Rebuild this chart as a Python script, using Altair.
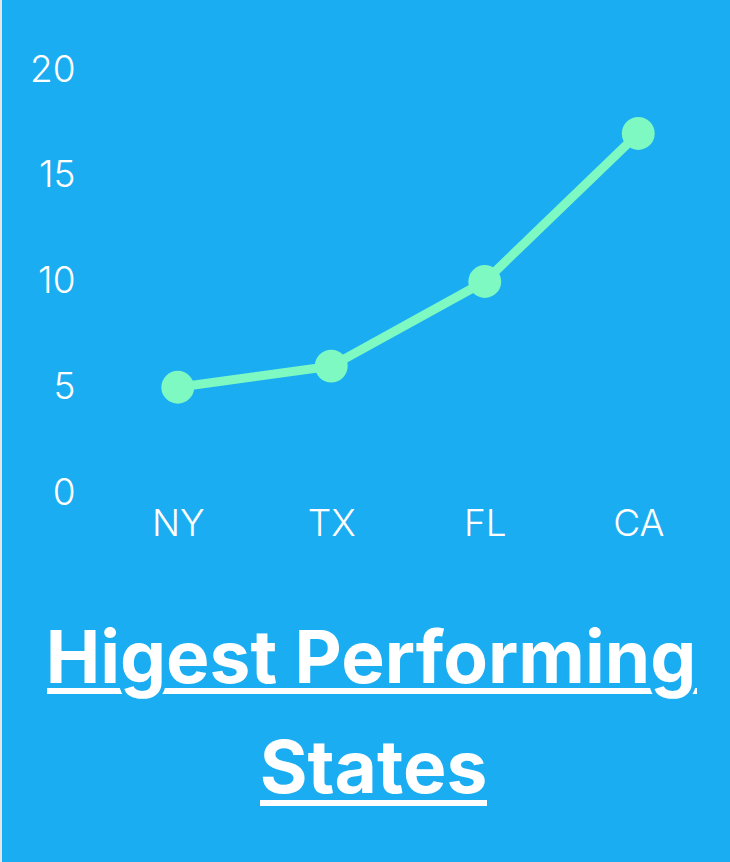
import altair as alt
import pandas as pd

states = ["NY", "TX", "FL", "CA"]
values = [5, 6, 10, 17]
y_ticks = [0, 5, 10, 15, 20]
title_lines = ["Higest Performing", "States"]

BG = "#1BADF2"
GREEN = "#7DF9C1"
W, H = 614, 423
PL, PT = 101, 70

df = pd.DataFrame({"state": states, "value": values})

x = alt.X("state:N", sort=states, title=None,
          scale=alt.Scale(type="point", padding=0.5),
          axis=alt.Axis(labelAngle=0, labelFontSize=37, labelColor="white",
                        labelFont="Inter", labelFontWeight=300,
                        labelPadding=13, ticks=False, domain=False, grid=False))
y = alt.Y("value:Q", title=None,
          scale=alt.Scale(domain=[0, 20], nice=False),
          axis=alt.Axis(values=y_ticks, labelFontSize=37, labelColor="white",
                        labelFont="Inter", labelFontWeight=300,
                        labelPadding=26, ticks=False, domain=False, grid=False))

base = alt.Chart(df)
line = base.mark_line(color=GREEN, strokeWidth=9).encode(x=x, y=y)
pts = base.mark_circle(color=GREEN, size=1080, opacity=1).encode(x=x, y=y)

# title with underlines (skip-ink effect)
tdf = pd.DataFrame({"t": title_lines,
                    "cx": [371 - PL, 373.5 - PL],
                    "by": [683 - PT, 793 - PT],
                    "ux1": [47 - PL, 260 - PL],
                    "ux2": [697 - PL, 487 - PL],
                    "uy": [691 - PT, 803 - PT]})
tbase = alt.Chart(tdf)
ulines = tbase.mark_rule(color="white", strokeWidth=6, strokeCap="butt").encode(
    x=alt.X("ux1:Q", scale=None), x2="ux2:Q", y=alt.Y("uy:Q", scale=None))
tknock = tbase.mark_text(font="Inter", fontWeight=700, fontSize=73, align="center",
                         baseline="alphabetic", color=BG, stroke=BG, strokeWidth=8).encode(
    x=alt.X("cx:Q", scale=None), y=alt.Y("by:Q", scale=None), text="t:N")
ttext = tbase.mark_text(font="Inter", fontWeight=700, fontSize=73, align="center",
                        baseline="alphabetic", color="white").encode(
    x=alt.X("cx:Q", scale=None), y=alt.Y("by:Q", scale=None), text="t:N")

edge = alt.Chart(pd.DataFrame({"a": [0]})).mark_rule(color="#E6E6E6", strokeWidth=2).encode(
    x=alt.value(-PL + 1), y=alt.value(-PT), y2=alt.value(862 - PT))

chart = alt.layer(line, pts, ulines, tknock, ttext, edge).properties(
    width=W, height=H,
    autosize=alt.AutoSizeParams(type="none"),
    padding={"left": PL, "top": PT, "right": 730 - PL - W, "bottom": 862 - PT - H},
    background=BG,
).configure_view(stroke=None).configure_axis(labelFlush=False)

chart.save("out.html", embed_options={"renderer": "svg", "actions": False})
